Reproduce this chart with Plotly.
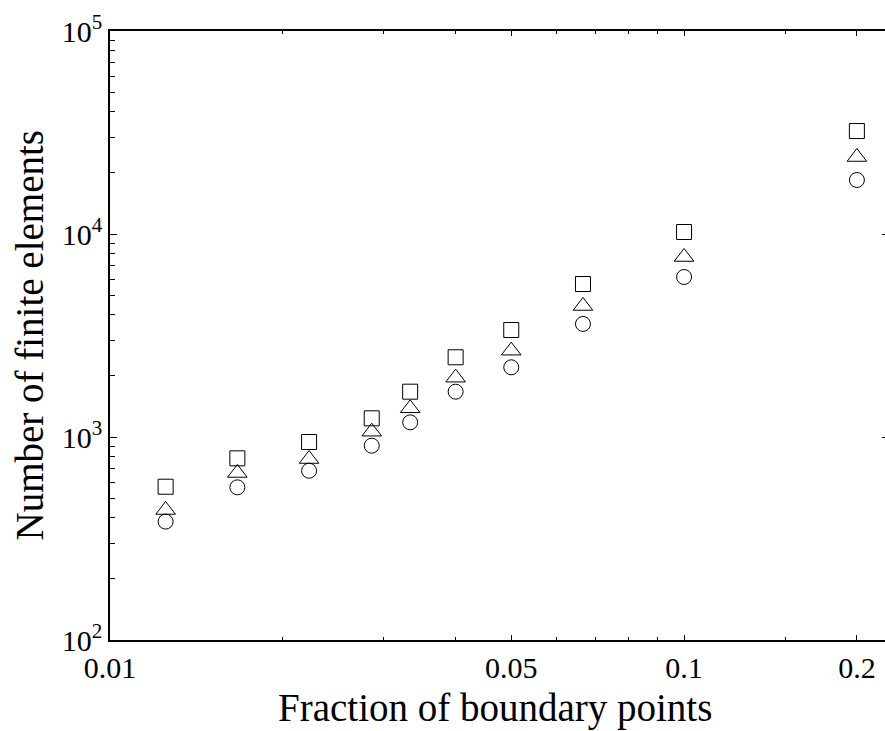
import plotly.graph_objects as go

# Data
fraction = [1/80, 1/60, 1/45, 1/35, 1/30, 1/25, 1/20, 1/15, 1/10, 1/5]
series_square = [569, 785, 945, 1236, 1672, 2470, 3365, 5670, 10230, 32150]
series_triangle = [437, 665, 779, 1062, 1385, 1960, 2662, 4420, 7705, 23950]
series_circle = [383, 565, 682, 906, 1181, 1672, 2205, 3605, 6140, 18450]

x_tickvals = [0.01, 0.05, 0.1, 0.2]
x_ticktext = ["0.01", "0.05", "0.1", "0.2"]
x_minor_vals = [0.02, 0.03, 0.04, 0.06, 0.07, 0.08, 0.09, 0.15]
y_tickvals = [1e2, 1e3, 1e4, 1e5]
y_ticktext = ["10<sup>2</sup>", "10<sup>3</sup>", "10<sup>4</sup>", "10<sup>5</sup>"]
y_minor_vals = [m * 10**e for e in (2, 3, 4) for m in range(2, 10)]
y_right_tickvals = [1e3, 1e4]

FONT = "Liberation Serif, Times New Roman, serif"

fig = go.Figure()
for ys, sym, size in [(series_square, "square-open", 15),
                      (series_triangle, "triangle-up-open", 17),
                      (series_circle, "circle-open", 15)]:
    fig.add_trace(go.Scatter(
        x=fraction, y=ys, mode="markers",
        marker=dict(symbol=sym, size=size, color="black", line=dict(width=1, color="black")),
        showlegend=False, cliponaxis=False))

fig.update_layout(
    width=885, height=731,
    margin=dict(l=110, r=0, t=31, b=91),
    plot_bgcolor="white", paper_bgcolor="white",
    font=dict(family=FONT, color="black", size=30),
    xaxis=dict(
        type="log", range=[-2, -0.650],
        tickmode="array", tickvals=x_tickvals, ticktext=x_ticktext,
        ticks="inside", ticklen=5, tickwidth=1, tickcolor="black",
        minor=dict(tickmode="array", tickvals=x_minor_vals, ticks="inside", ticklen=3,
                   tickwidth=1, tickcolor="black", showgrid=False),
        showline=True, linecolor="black", linewidth=1.5, mirror="ticks",
        showgrid=False, zeroline=False,
        tickfont=dict(family=FONT, size=30),
    ),
    yaxis=dict(
        type="log", range=[2, 5],
        tickmode="array", tickvals=y_tickvals, ticktext=y_ticktext,
        ticks="inside", ticklen=7, tickwidth=1, tickcolor="black",
        minor=dict(tickmode="array", tickvals=y_minor_vals, ticks="inside", ticklen=5,
                   tickwidth=1, tickcolor="black", showgrid=False),
        showline=True, linecolor="black", linewidth=1.5, mirror=False,
        showgrid=False, zeroline=False,
        tickfont=dict(family=FONT, size=30),
    ),
    yaxis2=dict(
        type="log", range=[2, 5], overlaying="y", side="right",
        tickmode="array", tickvals=y_right_tickvals, showticklabels=False,
        ticks="inside", ticklen=3, tickwidth=1, tickcolor="black",
        showline=False, showgrid=False, zeroline=False,
    ),
    annotations=[
        dict(text="Fraction of boundary points", xref="paper", yref="paper",
             x=0.497, y=0, yanchor="top", xanchor="center", yshift=-44,
             showarrow=False, font=dict(family=FONT, size=39)),
        dict(text="Number of finite elements", xref="paper", yref="paper",
             x=0, y=0.5, xanchor="center", yanchor="middle", xshift=-81,
             textangle=-90, showarrow=False, font=dict(family=FONT, size=39)),
    ],
)
# invisible trace so the right axis is drawn
fig.add_trace(go.Scatter(x=[fraction[0]], y=[series_circle[0]], yaxis="y2",
                         mode="markers", marker=dict(opacity=0), showlegend=False,
                         hoverinfo="skip"))

fig.write_html("out.html")
